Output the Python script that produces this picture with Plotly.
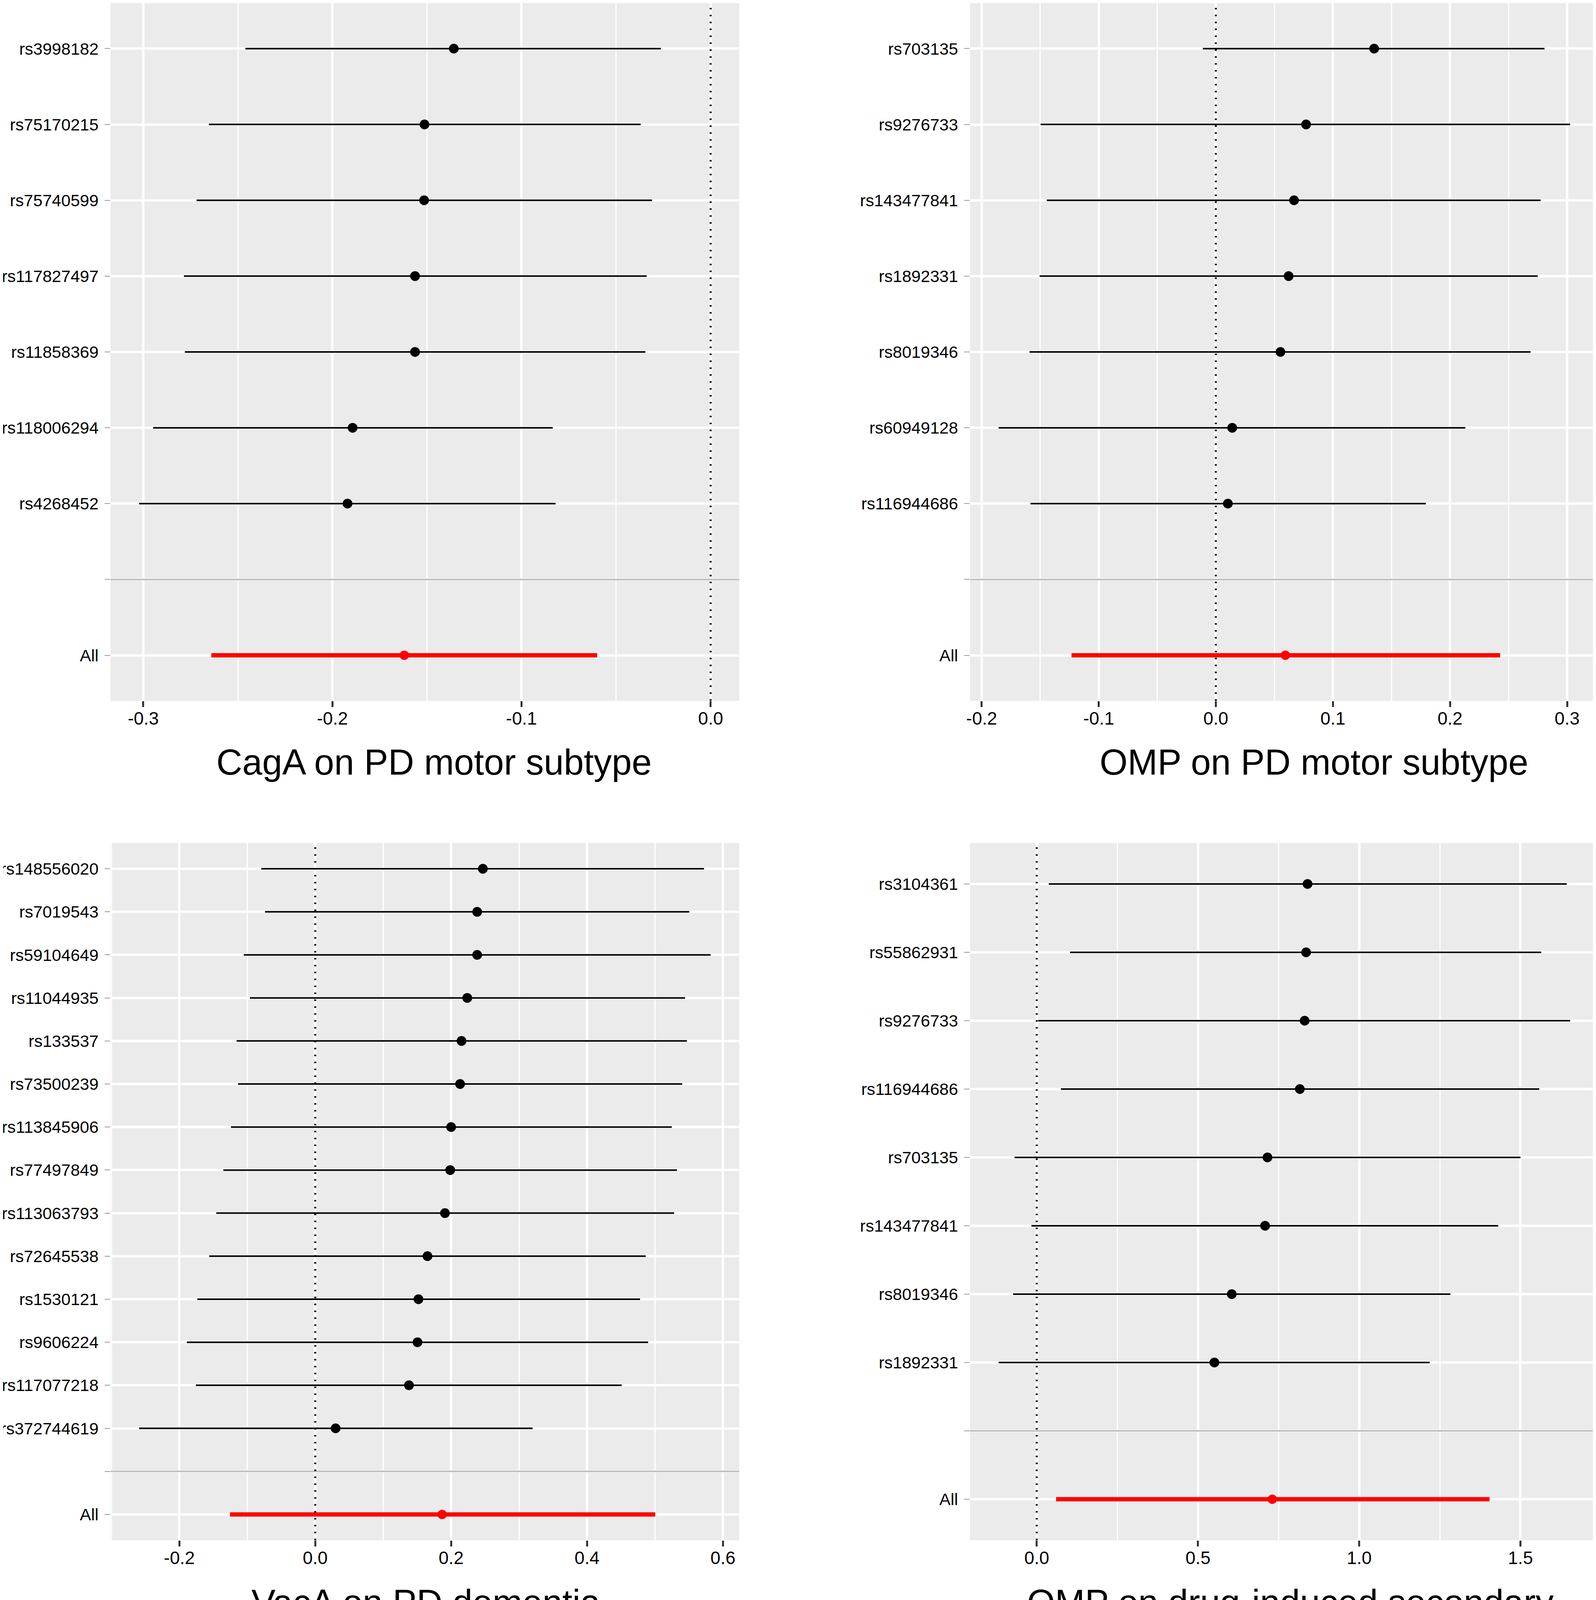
import plotly.graph_objects as go

FIG_W, FIG_H = 4087, 4250
FONT = "Liberation Sans, Arial, sans-serif"

# CagA on PD motor subtype (top to bottom)
CAGA_SNPS = ["rs3998182", "rs75170215", "rs75740599", "rs117827497",
             "rs11858369", "rs118006294", "rs4268452"]
CAGA_B = [-0.1358, -0.1513, -0.1515, -0.1563, -0.1563, -0.1893, -0.1920]
CAGA_LO = [-0.2460, -0.2653, -0.2718, -0.2785, -0.2780, -0.2948, -0.3022]
CAGA_HI = [-0.0263, -0.0370, -0.0310, -0.0338, -0.0345, -0.0835, -0.0820]
CAGA_ALL = [-0.1620, -0.2640, -0.0600]  # estimate, lower, upper
CAGA_TICKS = [-0.3, -0.2, -0.1, 0.0]
CAGA_TICKTEXT = ["-0.3", "-0.2", "-0.1", "0.0"]

# OMP on PD motor subtype
OMP1_SNPS = ["rs703135", "rs9276733", "rs143477841", "rs1892331",
             "rs8019346", "rs60949128", "rs116944686"]
OMP1_B = [0.1352, 0.0771, 0.0668, 0.0622, 0.0552, 0.0140, 0.0103]
OMP1_LO = [-0.0111, -0.1496, -0.1443, -0.1505, -0.1591, -0.1855, -0.1583]
OMP1_HI = [0.2807, 0.3026, 0.2774, 0.2749, 0.2688, 0.2131, 0.1793]
OMP1_ALL = [0.0594, -0.1232, 0.2428]
OMP1_TICKS = [-0.2, -0.1, 0.0, 0.1, 0.2, 0.3]
OMP1_TICKTEXT = ["-0.2", "-0.1", "0.0", "0.1", "0.2", "0.3"]

# VacA on PD dementia
VACA_SNPS = ["rs148556020", "rs7019543", "rs59104649", "rs11044935", "rs133537",
             "rs73500239", "rs113845906", "rs77497849", "rs113063793",
             "rs72645538", "rs1530121", "rs9606224", "rs117077218", "rs372744619"]
VACA_B = [0.2467, 0.2383, 0.2383, 0.2237, 0.2153, 0.2132, 0.2000, 0.1986,
          0.1909, 0.1652, 0.1519, 0.1505, 0.1380, 0.0300]
VACA_LO = [-0.0794, -0.0739, -0.1052, -0.0962, -0.1157, -0.1136, -0.1240,
           -0.1352, -0.1456, -0.1561, -0.1735, -0.1889, -0.1756, -0.2592]
VACA_HI = [0.5721, 0.5505, 0.5819, 0.5443, 0.5470, 0.5401, 0.5247, 0.5324,
           0.5282, 0.4864, 0.4780, 0.4899, 0.4509, 0.3199]
VACA_ALL = [0.1868, -0.1254, 0.5003]
VACA_TICKS = [-0.2, 0.0, 0.2, 0.4, 0.6]
VACA_TICKTEXT = ["-0.2", "0.0", "0.2", "0.4", "0.6"]

# OMP on drug-induced secondary parkinsonism
OMP2_SNPS = ["rs3104361", "rs55862931", "rs9276733", "rs116944686",
             "rs703135", "rs143477841", "rs8019346", "rs1892331"]
OMP2_B = [0.8398, 0.8353, 0.8308, 0.8159, 0.7156, 0.7081, 0.6048, 0.5509]
OMP2_LO = [0.0374, 0.1033, 0.0045, 0.0749, -0.0689, -0.0165, -0.0734, -0.1183]
OMP2_HI = [1.6437, 1.5644, 1.6542, 1.5584, 1.5000, 1.4311, 1.2829, 1.2186]
OMP2_ALL = [0.7305, 0.0599, 1.4042]
OMP2_TICKS = [0.0, 0.5, 1.0, 1.5]
OMP2_TICKTEXT = ["0.0", "0.5", "1.0", "1.5"]

# panel boxes in pixels: left, right, top, bottom
PANELS = [
    dict(snps=CAGA_SNPS, b=CAGA_B, lo=CAGA_LO, hi=CAGA_HI, all=CAGA_ALL,
         ticks=CAGA_TICKS, ticktext=CAGA_TICKTEXT, box=(275, 1885, 0, 1786),
         titles=[("CagA on PD motor subtype", 1103, 1943)]),
    dict(snps=OMP1_SNPS, b=OMP1_B, lo=OMP1_LO, hi=OMP1_HI, all=OMP1_ALL,
         ticks=OMP1_TICKS, ticktext=OMP1_TICKTEXT, box=(2476, 4086, 0, 1786),
         titles=[("OMP on PD motor subtype", 3357, 1943)]),
    dict(snps=VACA_SNPS, b=VACA_B, lo=VACA_LO, hi=VACA_HI, all=VACA_ALL,
         ticks=VACA_TICKS, ticktext=VACA_TICKTEXT, box=(275, 1885, 2150, 3935),
         titles=[("VacA on PD dementia", 1083, 4094)]),
    dict(snps=OMP2_SNPS, b=OMP2_B, lo=OMP2_LO, hi=OMP2_HI, all=OMP2_ALL,
         ticks=OMP2_TICKS, ticktext=OMP2_TICKTEXT, box=(2476, 4086, 2150, 3935),
         titles=[("OMP on drug-induced secondary", 3296, 4094),
                 ("parkinsonism", 3296, 4198)]),
]


def minor_ticks(ticks, xr):
    # ggplot-style minor breaks: midpoints, extended one step past the ends
    step = ticks[1] - ticks[0]
    ext = [ticks[0] - step] + list(ticks) + [ticks[-1] + step]
    mids = [(a + b) / 2 for a, b in zip(ext[:-1], ext[1:])]
    return [m for m in mids if xr[0] <= m <= xr[1]]


fig = go.Figure()
shapes, annotations = [], []

for i, p in enumerate(PANELS, start=1):
    sfx = "" if i == 1 else str(i)
    xa, ya = "x" + sfx, "y" + sfx
    n = len(p["snps"])
    pos = [n + 1 - k for k in range(n)]
    b_all, lo_all, hi_all = p["all"]

    xs, ys = [], []
    for lo, hi, y in zip(p["lo"], p["hi"], pos):
        xs += [lo, hi, None]
        ys += [y, y, None]
    fig.add_trace(go.Scatter(x=xs, y=ys, mode="lines", xaxis=xa, yaxis=ya,
                             line=dict(color="black", width=4),
                             hoverinfo="skip", showlegend=False))
    fig.add_trace(go.Scatter(x=p["b"], y=pos, mode="markers", xaxis=xa, yaxis=ya,
                             marker=dict(color="black", size=25),
                             text=p["snps"], showlegend=False))
    fig.add_trace(go.Scatter(x=[lo_all, hi_all], y=[0, 0], mode="lines",
                             xaxis=xa, yaxis=ya,
                             line=dict(color="#FF0000", width=11),
                             hoverinfo="skip", showlegend=False))
    fig.add_trace(go.Scatter(x=[b_all], y=[0], mode="markers", xaxis=xa, yaxis=ya,
                             marker=dict(color="#FF0000", size=24),
                             text=["All"], showlegend=False))

    # x limits like ggplot: data incl. the zero line, expanded by 5 %
    xmin = min(min(p["lo"]), lo_all, 0)
    xmax = max(max(p["hi"]), hi_all, 0)
    pad = 0.05 * (xmax - xmin)
    xr = [xmin - pad, xmax + pad]

    x0, x1, y0, y1 = p["box"]
    fig.update_layout({
        "xaxis" + sfx: dict(
            domain=[x0 / FIG_W, x1 / FIG_W], range=xr, anchor=ya,
            tickmode="array", tickvals=p["ticks"], ticktext=p["ticktext"],
            ticks="outside", ticklen=15, tickwidth=5, tickcolor="#333333",
            ticklabelstandoff=-10,
            tickfont=dict(size=46, color="black", family=FONT),
            showgrid=True, gridcolor="white", gridwidth=5.5,
            zeroline=False, showline=False, automargin=False,
            minor=dict(tickmode="array", tickvals=minor_ticks(p["ticks"], xr),
                       showgrid=True, gridcolor="white", gridwidth=2.8),
        ),
        "yaxis" + sfx: dict(
            domain=[1 - y1 / FIG_H, 1 - y0 / FIG_H], range=[-0.6, n + 1.6],
            anchor=xa, tickmode="array", tickvals=pos + [1, 0],
            ticktext=p["snps"] + ["", "All"],
            ticks="outside", ticklen=14, tickwidth=2, tickcolor="#9A9A9A",
            ticklabelstandoff=7,
            tickfont=dict(size=43, color="black", family=FONT),
            showgrid=True, gridcolor="white", gridwidth=5.5,
            zeroline=False, showline=False, automargin=False,
        ),
    })

    # separator between SNPs and the pooled estimate
    shapes.append(dict(type="line", xref=xa + " domain", x0=0, x1=1,
                       yref=ya, y0=1, y1=1,
                       line=dict(color="#BEBEBE", width=4)))
    # dotted null line
    shapes.append(dict(type="line", xref=xa, x0=0, x1=0,
                       yref=ya + " domain", y0=0, y1=1,
                       line=dict(color="black", width=5, dash="4px,13.7px")))

    for text, cx, cy in p["titles"]:
        annotations.append(dict(text=text, xref="paper", yref="paper",
                                x=cx / FIG_W, y=1 - cy / FIG_H,
                                xanchor="center", yanchor="middle",
                                showarrow=False,
                                font=dict(size=92, color="black", family=FONT)))

fig.update_layout(
    width=FIG_W, height=FIG_H,
    margin=dict(l=0, r=0, t=0, b=0, pad=0),
    template="none",
    paper_bgcolor="white", plot_bgcolor="#EBEBEB",
    font=dict(family=FONT, color="black"),
    showlegend=False,
    shapes=shapes, annotations=annotations,
)

fig.write_html("out.html")
